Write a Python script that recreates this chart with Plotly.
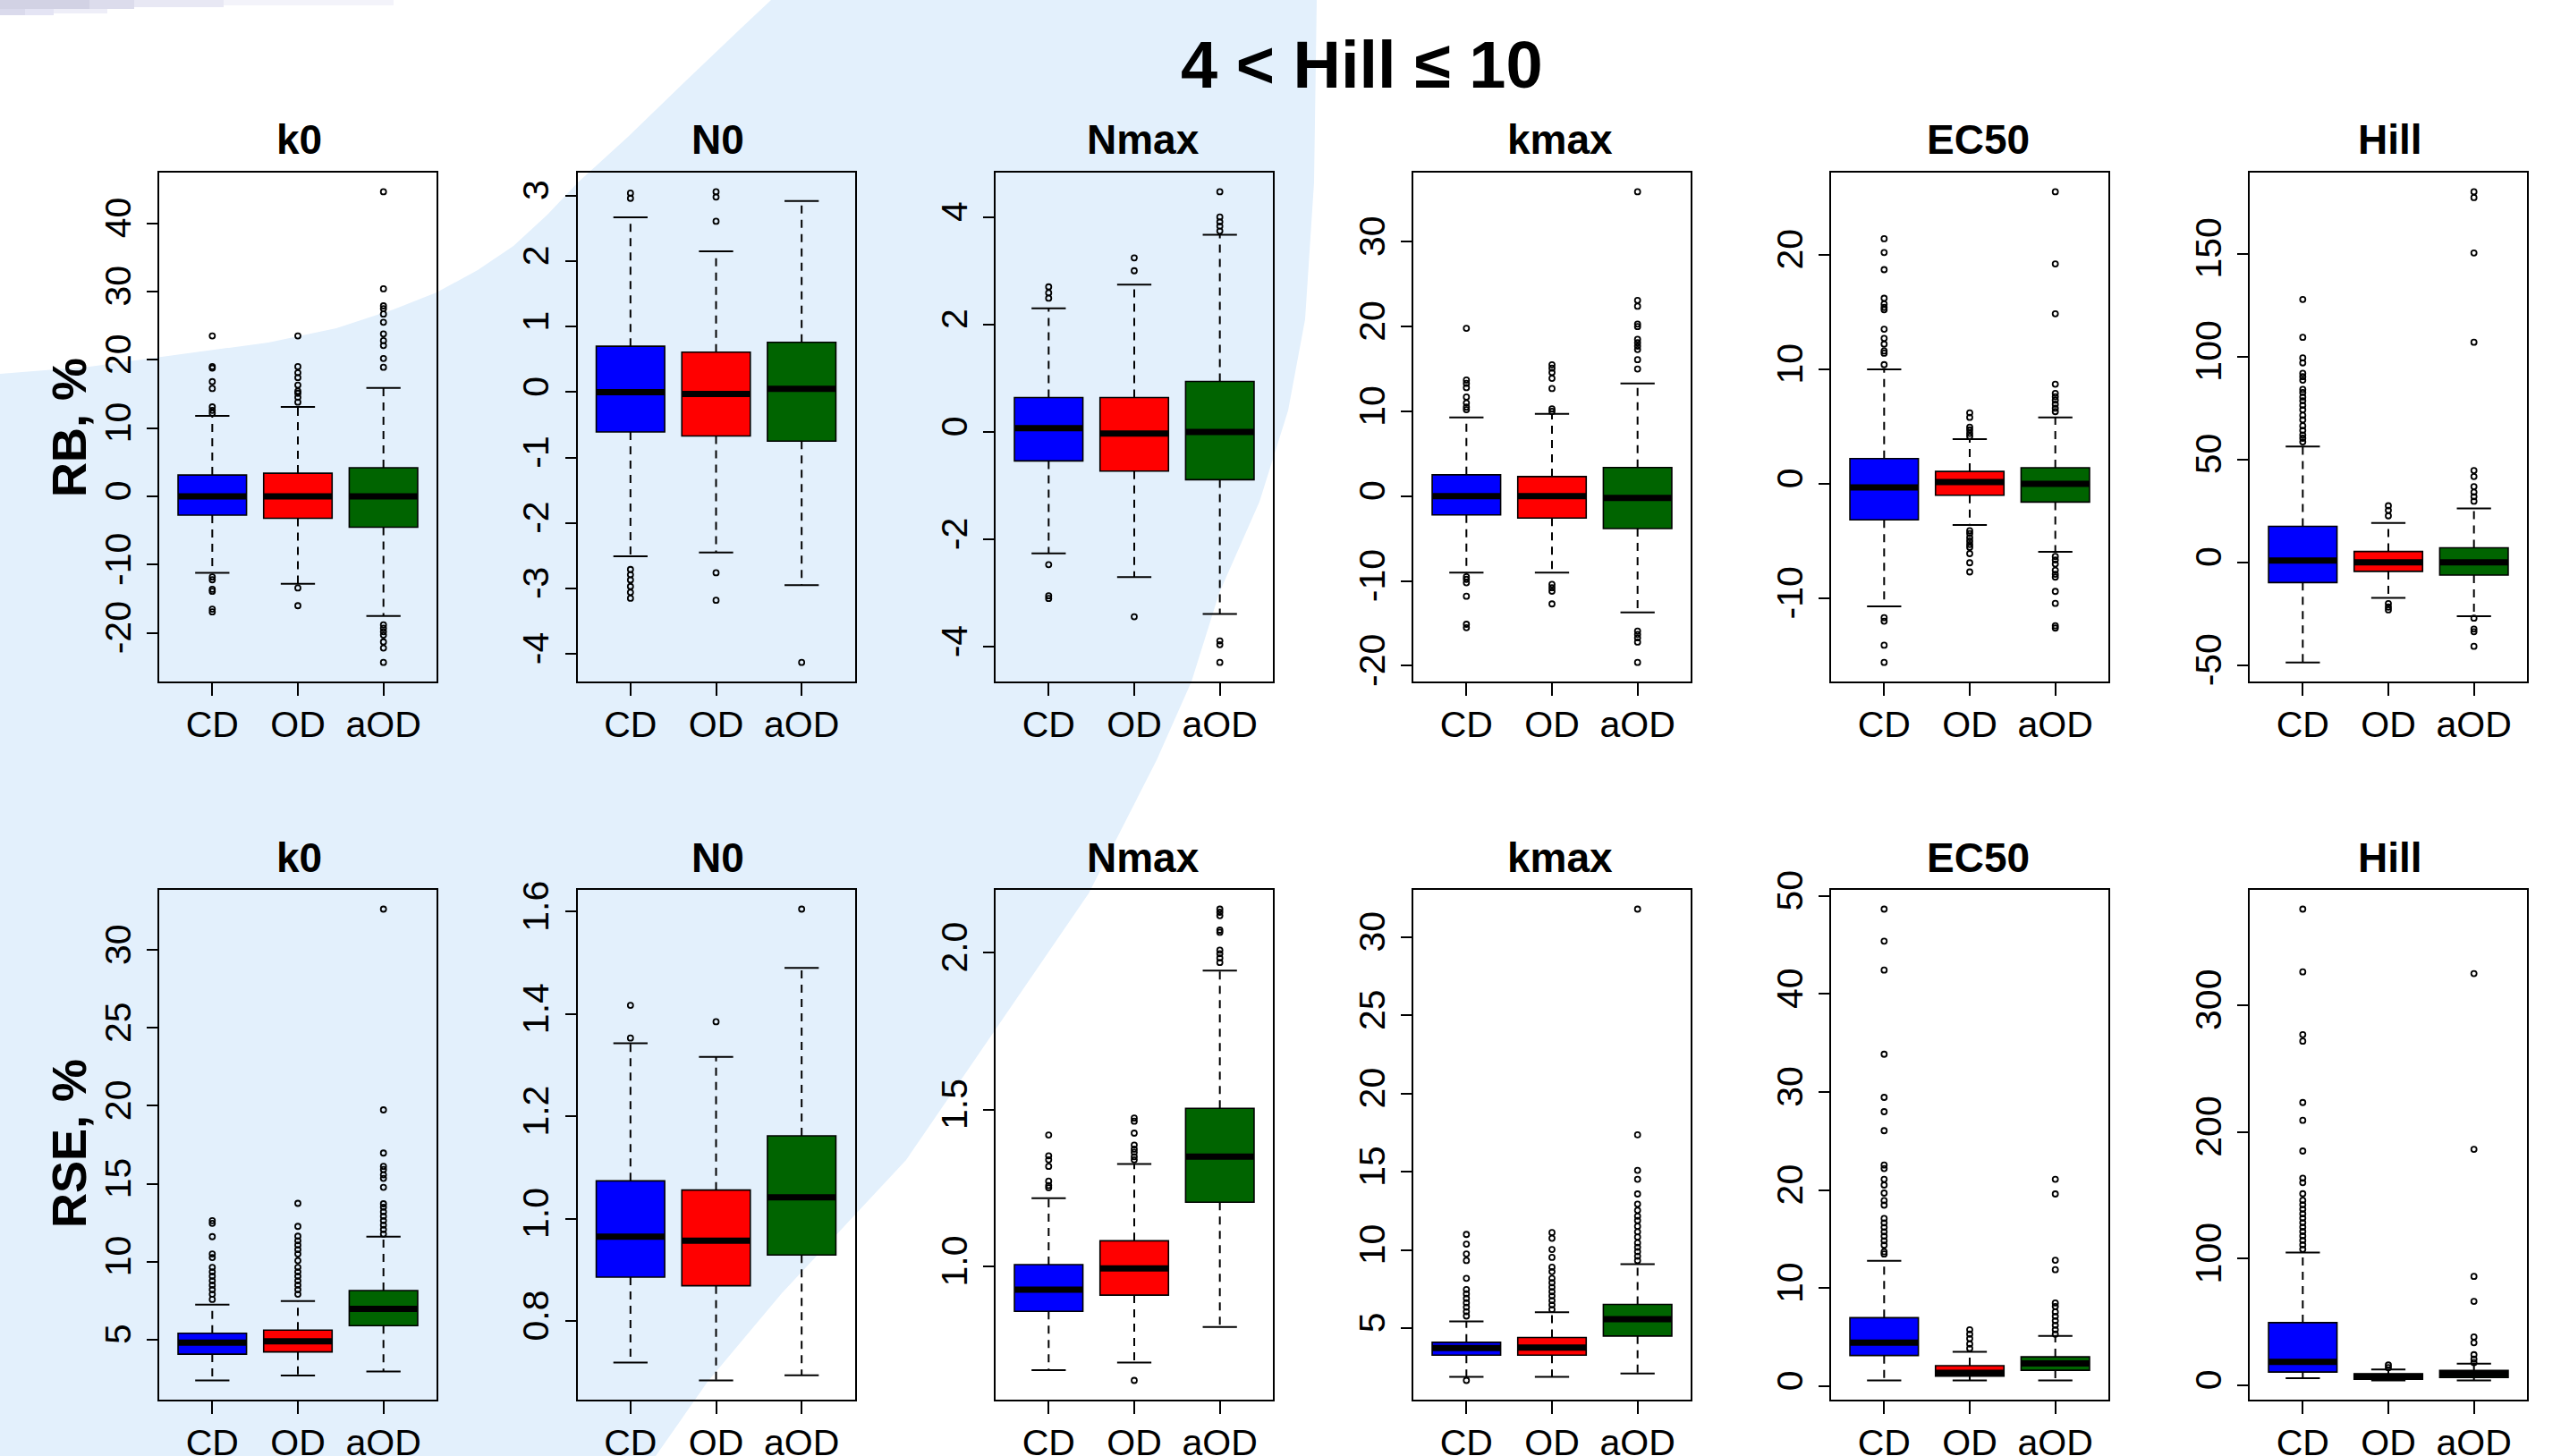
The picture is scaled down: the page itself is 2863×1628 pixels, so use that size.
import plotly.graph_objects as go

W, H = 2863, 1628

GROUPS = ["CD", "OD", "aOD"]
COLORS = ["#0000FF", "#FF0000", "#006400"]
PARAMS = ["k0", "N0", "Nmax", "kmax", "EC50", "Hill"]
ROW_LABELS = ["RB, %", "RSE, %"]
MAIN_TITLE = "4 &lt; Hill ≤ 10"

# ---- data: [lower whisker, Q1, median, Q3, upper whisker] for CD, OD, aOD ----
rb_k0_stats = [[-11.2, -2.74, 0.0, 3.14, 11.8], [-12.8, -3.2, 0.0, 3.4, 13.1], [-17.5, -4.5, 0.0, 4.2, 15.9]]
rb_k0_out = [[23.5, 19.0, 18.8, 16.8, 15.8, 13.1, 12.6, 12.2, -11.8, -12.2, -13.6, -13.9, -16.5, -16.9],
             [23.5, 19.0, 18.1, 17.4, 16.3, 15.4, 15.1, 14.5, 13.8, -13.4, -16.0],
             [44.6, 30.4, 27.9, 27.5, 26.7, 25.5, 23.8, 22.8, 22.1, 20.2, 18.9, -18.8, -19.3, -19.8, -20.3, -21.3, -22.2, -24.3]]
rb_n0_stats = [[-2.51, -0.61, 0.0, 0.70, 2.67], [-2.45, -0.67, -0.03, 0.61, 2.15], [-2.95, -0.75, 0.05, 0.76, 2.92]]
rb_n0_out = [[3.04, 2.96, -2.71, -2.79, -2.87, -2.97, -3.06, -3.15],
             [3.06, 2.98, 2.61, -2.76, -3.18],
             [-4.13]]
rb_nmax_stats = [[-2.26, -0.54, 0.07, 0.64, 2.30], [-2.70, -0.73, -0.03, 0.64, 2.74], [-3.39, -0.89, 0.0, 0.94, 3.67]]
rb_nmax_out = [[2.70, 2.59, 2.49, -2.47, -3.05, -3.10],
               [3.24, 3.00, -3.44],
               [4.47, 4.00, 3.91, 3.83, 3.74, -3.89, -3.96, -4.29]]
rb_kmax_stats = [[-9.0, -2.2, 0.0, 2.53, 9.3], [-9.0, -2.58, 0.0, 2.31, 9.7], [-13.7, -3.82, -0.2, 3.39, 13.3]]
rb_kmax_out = [[19.8, 13.7, 13.3, 12.8, 11.7, 11.0, 10.5, 10.2, -9.5, -9.8, -10.2, -11.8, -15.1, -15.5],
               [15.5, 15.1, 14.6, 13.9, 12.7, 10.3, 10.0, -10.4, -10.8, -11.2, -12.7],
               [35.9, 23.1, 22.4, 20.3, 20.0, 18.5, 18.1, 17.7, 17.3, 16.1, 15.0, -15.9, -16.3, -16.7, -17.2, -19.6]]
rb_ec50_stats = [[-10.7, -3.15, -0.32, 2.2, 10.0], [-3.6, -1.0, 0.16, 1.08, 3.9], [-5.95, -1.6, 0.0, 1.4, 5.8]]
rb_ec50_out = [[21.4, 20.2, 18.7, 16.2, 15.7, 15.4, 15.2, 13.5, 12.7, 12.2, 11.6, 11.4, 10.4, -11.7, -12.0, -14.1, -15.6],
               [6.2, 5.8, 4.95, 4.7, 4.4, 4.15, -4.1, -4.35, -4.7, -5.0, -5.3, -5.55, -6.1, -6.9, -7.7],
               [25.5, 19.2, 14.85, 8.7, 7.9, 7.6, 7.3, 6.95, 6.6, 6.3, -6.35, -6.65, -7.0, -7.55, -7.9, -8.15, -9.4, -10.45, -12.4, -12.6]]
rb_hill_stats = [[-48.6, -9.8, 0.9, 17.5, 56.3], [-17.3, -4.4, 0.0, 5.3, 19.1], [-26.2, -6.2, 0.0, 7.1, 26.2]]
rb_hill_out = [[127.7, 109.3, 99.3, 96.9, 91.8, 90.2, 88.5, 84.0, 82.5, 80.3, 78.5, 76.3, 74.1, 71.4, 69.2, 66.3, 64.1, 61.9, 60.3, 58.5],
               [27.5, 25.3, 22.6, -20.0, -21.7, -23.1],
               [180.0, 177.2, 150.3, 106.9, 44.6, 41.7, 36.8, 34.1, 31.9, 29.7, -27.1, -32.4, -33.7, -40.8]]

rse_k0_stats = [[2.37, 4.06, 4.8, 5.4, 7.23], [2.69, 4.2, 4.89, 5.6, 7.46], [2.94, 5.89, 6.97, 8.14, 11.6]]
rse_k0_out = [[12.63, 12.46, 11.6, 10.49, 10.26, 9.63, 9.34, 9.06, 8.77, 8.49, 8.2, 7.91, 7.57],
              [13.74, 12.26, 11.63, 11.34, 11.06, 10.77, 10.49, 10.06, 9.63, 9.34, 9.06, 8.77, 8.49, 8.2, 7.91],
              [32.63, 19.74, 16.97, 16.11, 15.91, 15.57, 15.34, 14.77, 13.71, 13.49, 13.2, 12.91, 12.63, 12.34, 12.06, 11.77]]
rse_n0_stats = [[0.719, 0.886, 0.965, 1.074, 1.343], [0.684, 0.869, 0.957, 1.056, 1.316], [0.694, 0.929, 1.042, 1.162, 1.490]]
rse_n0_out = [[1.417, 1.353], [1.385], [1.605]]
rse_nmax_stats = [[0.670, 0.857, 0.926, 1.006, 1.218], [0.694, 0.909, 0.994, 1.082, 1.327], [0.807, 1.205, 1.350, 1.504, 1.943]]
rse_nmax_out = [[1.419, 1.353, 1.340, 1.319, 1.272, 1.258, 1.251],
                [1.473, 1.463, 1.425, 1.387, 1.374, 1.364, 1.350, 1.340, 0.637],
                [2.139, 2.129, 2.118, 2.072, 2.065, 2.008, 1.997, 1.983, 1.969]]
rse_kmax_stats = [[1.88, 3.27, 3.72, 4.09, 5.43], [1.88, 3.27, 3.75, 4.4, 6.02], [2.1, 4.49, 5.57, 6.51, 9.09]]
rse_kmax_out = [[10.99, 10.37, 9.74, 9.32, 8.18, 7.47, 7.19, 6.9, 6.62, 6.34, 6.05, 5.77, 1.65],
                [11.11, 10.74, 10.03, 9.52, 8.89, 8.61, 8.18, 7.9, 7.61, 7.33, 7.05, 6.76, 6.48, 6.19],
                [31.8, 17.36, 15.09, 14.52, 13.58, 12.93, 12.53, 12.16, 11.88, 11.51, 11.16, 10.82, 10.45, 10.17, 9.89, 9.6, 9.32]]
rse_ec50_stats = [[0.59, 3.13, 4.45, 6.99, 12.8], [0.59, 1.04, 1.36, 2.09, 3.5], [0.59, 1.63, 2.32, 3.0, 5.13]]
rse_ec50_out = [[48.66, 45.39, 42.44, 33.86, 29.46, 28.0, 26.06, 22.56, 22.2, 21.11, 20.52, 19.7, 18.93, 18.47, 17.11, 16.66, 16.2, 15.75, 15.3, 14.84, 14.39, 13.71, 13.48],
                [5.76, 5.31, 4.86, 4.31, 3.86],
                [21.11, 19.61, 12.85, 11.89, 8.49, 8.13, 7.58, 7.13, 6.67, 6.22, 5.76, 5.31]]
rse_hill_stats = [[5.6, 10.5, 18.6, 49.5, 104.9], [3.9, 4.9, 7.0, 9.1, 12.6], [3.9, 6.3, 9.1, 11.9, 17.2]]
rse_hill_out = [[375.8, 326.3, 276.8, 271.6, 223.2, 209.1, 184.9, 163.5, 160.0, 151.2, 146.0, 142.5, 139.0, 135.4, 131.9, 128.4, 124.9, 121.4, 117.9, 114.4, 110.9, 107.4],
                [16.1, 14.0],
                [324.9, 186.3, 86.0, 66.3, 38.2, 33.7, 24.2, 20.7, 17.9]]

# ---- y tick values / labels per panel ----
rb_ticks = [[-20, -10, 0, 10, 20, 30, 40], [-4, -3, -2, -1, 0, 1, 2, 3], [-4, -2, 0, 2, 4],
            [-20, -10, 0, 10, 20, 30], [-10, 0, 10, 20], [-50, 0, 50, 100, 150]]
rse_ticks = [[5, 10, 15, 20, 25, 30], [0.8, 1.0, 1.2, 1.4, 1.6], [1.0, 1.5, 2.0],
             [5, 10, 15, 20, 25, 30], [0, 10, 20, 30, 40, 50], [0, 100, 200, 300]]
rse_tick_text = [["5", "10", "15", "20", "25", "30"], ["0.8", "1.0", "1.2", "1.4", "1.6"], ["1.0", "1.5", "2.0"],
                 ["5", "10", "15", "20", "25", "30"], ["0", "10", "20", "30", "40", "50"], ["0", "100", "200", "300"]]

rows = [
    [(rb_k0_stats, rb_k0_out), (rb_n0_stats, rb_n0_out), (rb_nmax_stats, rb_nmax_out),
     (rb_kmax_stats, rb_kmax_out), (rb_ec50_stats, rb_ec50_out), (rb_hill_stats, rb_hill_out)],
    [(rse_k0_stats, rse_k0_out), (rse_n0_stats, rse_n0_out), (rse_nmax_stats, rse_nmax_out),
     (rse_kmax_stats, rse_kmax_out), (rse_ec50_stats, rse_ec50_out), (rse_hill_stats, rse_hill_out)],
]
row_ticks = [rb_ticks, rse_ticks]
row_tick_text = [[[str(v) for v in t] for t in rb_ticks], rse_tick_text]

# ---- layout geometry (pixels) ----
PANEL_LEFT = [178, 645.5, 1113, 1580, 2047, 2515]
PANEL_W = 310
TITLE_DX = [1, 2, 10, 9, 9, 2]
ROW_TOP = [193.4, 995.4]
ROW_BOT = [761.7, 1564.6]
TITLE_Y = [156, 959]
FONT = "Liberation Sans, Arial, Helvetica, sans-serif"
BOXW = 0.8

fig = go.Figure()
layout_axes = {}
annotations = []

n = 0
for r in range(2):
    for c in range(6):
        n += 1
        xa = "x" if n == 1 else f"x{n}"
        ya = "y" if n == 1 else f"y{n}"
        stats, outs = rows[r][c]
        # boxes
        for i, (st, col) in enumerate(zip(stats, COLORS)):
            lo, q1, med, q3, hi = st
            fig.add_trace(go.Box(x=[i + 1], q1=[q1], median=[med], q3=[q3],
                                 lowerfence=[q1], upperfence=[q3], width=BOXW,
                                 fillcolor=col, line=dict(color="black", width=1.6),
                                 whiskerwidth=0, boxpoints=False, hoverinfo="skip",
                                 showlegend=False, xaxis=xa, yaxis=ya))
        wx, wy, sx, sy, mx, my, ox, oy = [], [], [], [], [], [], [], []
        for i, st in enumerate(stats):
            lo, q1, med, q3, hi = st
            p = i + 1
            wx += [p, p, None, p, p, None]
            wy += [q3, hi, None, q1, lo, None]
            sx += [p - BOXW / 4, p + BOXW / 4, None, p - BOXW / 4, p + BOXW / 4, None]
            sy += [hi, hi, None, lo, lo, None]
            mx += [p - BOXW / 2, p + BOXW / 2, None]
            my += [med, med, None]
            ox += [p] * len(outs[i])
            oy += list(outs[i])
        fig.add_trace(go.Scatter(x=wx, y=wy, mode="lines", line=dict(color="black", width=2, dash="9px,7px"),
                                 hoverinfo="skip", showlegend=False, xaxis=xa, yaxis=ya))
        fig.add_trace(go.Scatter(x=sx, y=sy, mode="lines", line=dict(color="black", width=2),
                                 hoverinfo="skip", showlegend=False, xaxis=xa, yaxis=ya))
        fig.add_trace(go.Scatter(x=mx, y=my, mode="lines", line=dict(color="black", width=7),
                                 hoverinfo="skip", showlegend=False, xaxis=xa, yaxis=ya))
        fig.add_trace(go.Scatter(x=ox, y=oy, mode="markers",
                                 marker=dict(symbol="circle-open", size=6, color="black", line=dict(width=1.8)),
                                 hoverinfo="skip", showlegend=False, xaxis=xa, yaxis=ya))

        allv = [v for st in stats for v in (st[0], st[4])] + [v for o in outs for v in o]
        vmin, vmax = min(allv), max(allv)
        pad = 0.04 * (vmax - vmin)

        left = PANEL_LEFT[c]
        xd = [left / W, (left + PANEL_W) / W]
        yd = [1 - ROW_BOT[r] / H, 1 - ROW_TOP[r] / H]
        common = dict(showline=True, mirror=True, linecolor="black", linewidth=2,
                      ticks="outside", tickcolor="black", tickwidth=2,
                      showgrid=False, zeroline=False, automargin=False, fixedrange=True,
                      tickfont=dict(family=FONT, size=41, color="black"))
        layout_axes["xaxis" if n == 1 else f"xaxis{n}"] = dict(
            domain=xd, anchor=ya, range=[0.38, 3.62], tickvals=[1, 2, 3], ticktext=GROUPS,
            ticklen=14, ticklabelstandoff=-3, **common)
        layout_axes["yaxis" if n == 1 else f"yaxis{n}"] = dict(
            domain=yd, anchor=xa, range=[vmin - pad, vmax + pad],
            tickvals=row_ticks[r][c], ticktext=row_tick_text[r][c], tickangle=-90,
            ticklen=12, ticklabelstandoff=2, **common)

        annotations.append(dict(text=f"<b>{PARAMS[c]}</b>", x=(left + PANEL_W / 2 + TITLE_DX[c]) / W,
                                y=1 - TITLE_Y[r] / H,
                                xref="paper", yref="paper", xanchor="center", yanchor="middle",
                                showarrow=False, font=dict(family=FONT, size=46, color="black")))

annotations.append(dict(text=f"<b>{MAIN_TITLE}</b>", x=1522 / W, y=1 - 72 / H, xref="paper", yref="paper",
                        xanchor="center", yanchor="middle", showarrow=False,
                        font=dict(family=FONT, size=74, color="black")))
for r, lab, yc in [(0, ROW_LABELS[0], 478), (1, ROW_LABELS[1], 1279)]:
    annotations.append(dict(text=f"<b>{lab}</b>", x=77 / W, y=1 - yc / H, xref="paper", yref="paper",
                            xanchor="center", yanchor="middle", textangle=-90, showarrow=False,
                            font=dict(family=FONT, size=54, color="black")))

# ---- background decoration (light-blue crescent) ----
inner = [(0, 418), (100, 410), (210, 395), (300, 383), (376, 367), (440, 346), (488, 327), (534, 302),
         (574, 275), (612, 240), (646, 204), (702, 153), (765, 92), (829, 31), (862, 0)]
outer = [(1472, 0), (1469, 204), (1459, 357), (1440, 459), (1408, 561), (1363, 663), (1332, 762),
         (1293, 850), (1217, 999), (1115, 1148), (1013, 1297), (874, 1446), (791, 1545), (733, 1628)]
pts = inner + outer + [(0, 1628)]
path = "M " + " L ".join(f"{px / W:.5f},{1 - py / H:.5f}" for px, py in pts) + " Z"
shapes = [dict(type="path", path=path, xref="paper", yref="paper", fillcolor="#E3F0FC",
               line=dict(width=0), layer="below")]
for (x0, y0, x1, y1, colr) in [(0, 0, 100, 10, "#D2D2E4"), (100, 0, 150, 10, "#DCDCEC"),
                               (150, 0, 250, 8, "#E8E8F4"), (250, 0, 440, 6, "#F3F3FA"),
                               (0, 10, 28, 17, "#DADAEC"), (28, 10, 60, 17, "#E4E4F4"),
                               (60, 10, 120, 15, "#EEEEF8")]:
    shapes.append(dict(type="rect", xref="paper", yref="paper", x0=x0 / W, x1=x1 / W,
                       y0=1 - y1 / H, y1=1 - y0 / H, fillcolor=colr, line=dict(width=0), layer="below"))

fig.update_layout(
    width=W, height=H, margin=dict(l=0, r=0, t=0, b=0),
    paper_bgcolor="white", plot_bgcolor="rgba(0,0,0,0)",
    showlegend=False, boxmode="overlay",
    font=dict(family=FONT, color="black"),
    annotations=annotations, shapes=shapes,
    **layout_axes,
)

fig.write_html("out.html", config={"displayModeBar": False},
               post_script="document.body.style.margin='0';document.body.style.overflow='hidden';")
